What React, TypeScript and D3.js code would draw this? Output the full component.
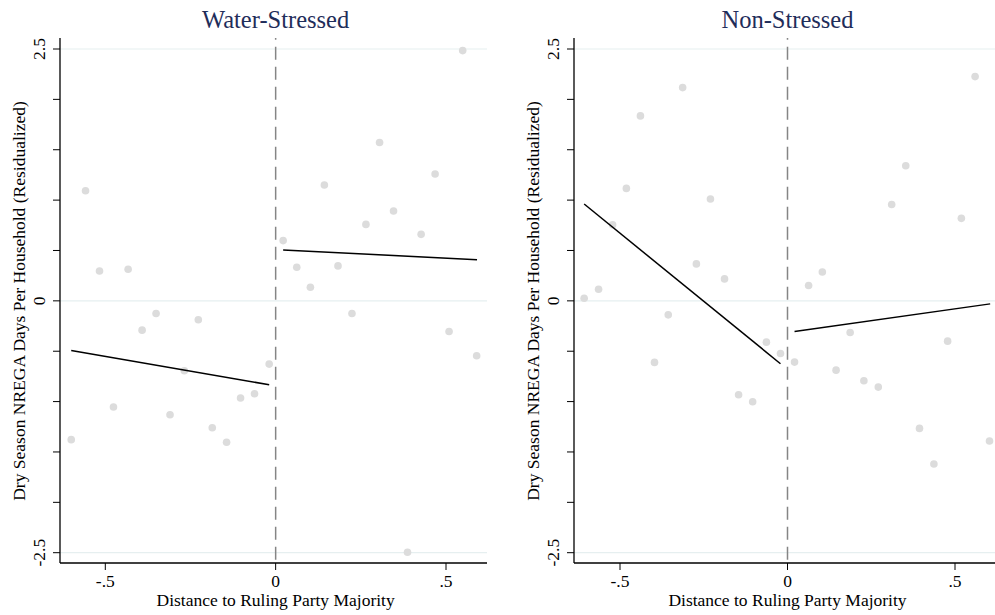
import React from "react";
import * as d3 from "d3";

const wsX = [0.549, 0.305, 0.468, 0.143, 0.346, 0.265, 0.427, 0.022, 0.062, 0.183, 0.102, -0.558, -0.517, -0.433, -0.351, -0.227, -0.392, 0.224, 0.509, 0.590, -0.019, -0.268, -0.062, -0.103, -0.476, -0.310, -0.186, -0.144, -0.600, 0.387];
const wsY = [2.484, 1.572, 1.259, 1.150, 0.892, 0.759, 0.660, 0.598, 0.333, 0.347, 0.135, 1.093, 0.297, 0.313, -0.126, -0.188, -0.291, -0.126, -0.304, -0.545, -0.628, -0.694, -0.922, -0.965, -1.054, -1.130, -1.259, -1.404, -1.378, -2.495];

const nsX = [-0.607, -0.564, -0.522, -0.481, -0.439, -0.313, -0.272, -0.230, -0.188, 0.063, 0.104, 0.311, 0.353, 0.519, 0.560, -0.356, -0.397, -0.063, -0.021, 0.021, -0.146, -0.104, 0.187, 0.145, 0.228, 0.271, 0.478, 0.394, 0.437, 0.603];
const nsY = [0.026, 0.115, 0.756, 1.116, 1.836, 2.117, 0.367, 1.011, 0.218, 0.152, 0.287, 0.957, 1.341, 0.819, 2.226, -0.139, -0.611, -0.410, -0.522, -0.608, -0.932, -1.001, -0.314, -0.688, -0.793, -0.856, -0.400, -1.266, -1.619, -1.391];

const wsFitLeftX = [-0.600, -0.019];
const wsFitLeftY = [-0.492, -0.833];
const wsFitRightX = [0.022, 0.591];
const wsFitRightY = [0.505, 0.409];
const nsFitLeftX = [-0.607, -0.021];
const nsFitLeftY = [0.961, -0.624];
const nsFitRightX = [0.021, 0.605];
const nsFitRightY = [-0.304, -0.030];

const xTicks = [-0.5, 0, 0.5];
const xTickLabels = ["-.5", "0", ".5"];
const yLabelTicks = [2.5, 0, -2.5];
const yLabelText = ["2.5", "0", "-2.5"];
const yMinorTicks = [2.5, 2, 1.5, 1, 0.5, 0, -0.5, -1, -1.5, -2, -2.5];

const titles = ["Water-Stressed", "Non-Stressed"];

const FONT = "'Liberation Serif', 'Times New Roman', serif";
const TITLE_COLOR = "#1f2d5a";
const GRID = "#e6eff0";
const DOT = "#dcdcdc";

type PanelProps = {
  title: string;
  xs: number[];
  ys: number[];
  fits: [number[], number[]][];
  axisX: number;
  rightX: number;
  xr: [number, number];
};

const yScale = d3.scaleLinear().domain([-2.5, 2.5]).range([552.7, 49]);
const topY = 38;
const bottomY = 563;

function Panel({ title, xs, ys, fits, axisX, rightX, xr }: PanelProps) {
  const x = d3.scaleLinear().domain([-0.5, 0.5]).range(xr);
  const line = d3
    .line<[number, number]>()
    .x((d) => x(d[0]))
    .y((d) => yScale(d[1]));
  const titleX = x(0);
  return (
    <g>
      <text x={titleX} y={28} textAnchor="middle" fontFamily={FONT} fontSize={24.5} fill={TITLE_COLOR}>
        {title}
      </text>
      {yLabelTicks.map((t) => (
        <line key={"g" + t} x1={axisX} x2={rightX} y1={yScale(t)} y2={yScale(t)} stroke={GRID} strokeWidth={1.2} />
      ))}
      <line
        x1={x(0)}
        x2={x(0)}
        y1={topY}
        y2={bottomY}
        stroke="#858585"
        strokeWidth={1.5}
        strokeDasharray="13,7"
        strokeDashoffset={11.3}
      />
      {xs.map((v, i) => (
        <circle key={i} cx={x(v)} cy={yScale(ys[i])} r={3.8} fill={DOT} />
      ))}
      {fits.map(([fx, fy], i) => (
        <path
          key={"f" + i}
          d={line(fx.map((v, j) => [v, fy[j]] as [number, number])) || ""}
          stroke="#000"
          strokeWidth={1.5}
          fill="none"
        />
      ))}
      <line x1={axisX} x2={axisX} y1={topY} y2={bottomY} stroke="#000" strokeWidth={1.3} />
      <line x1={axisX} x2={rightX} y1={bottomY} y2={bottomY} stroke="#000" strokeWidth={1.3} />
      {yMinorTicks.map((t) => (
        <line key={"t" + t} x1={axisX - 7} x2={axisX} y1={yScale(t)} y2={yScale(t)} stroke="#000" strokeWidth={1} />
      ))}
      {yLabelTicks.map((t, i) => (
        <text
          key={"yl" + t}
          transform={`translate(${axisX - 15},${yScale(t)}) rotate(-90)`}
          textAnchor="middle"
          fontFamily={FONT}
          fontSize={17.5}
          fill="#000"
        >
          {yLabelText[i]}
        </text>
      ))}
      {xTicks.map((t, i) => (
        <g key={"x" + t}>
          <line x1={x(t)} x2={x(t)} y1={bottomY} y2={bottomY + 7} stroke="#000" strokeWidth={1} />
          <text x={x(t)} y={587} textAnchor="middle" fontFamily={FONT} fontSize={17.5} fill="#000">
            {xTickLabels[i]}
          </text>
        </g>
      ))}
      <text x={x(0)} y={606} textAnchor="middle" fontFamily={FONT} fontSize={17.5} fill="#000">
        Distance to Ruling Party Majority
      </text>
      <text
        transform={`translate(${axisX - 35},301) rotate(-90)`}
        textAnchor="middle"
        fontFamily={FONT}
        fontSize={17.5}
        fill="#000"
      >
        Dry Season NREGA Days Per Household (Residualized)
      </text>
    </g>
  );
}

export default function App() {
  return (
    <svg
      width={995}
      height={615}
      style={{ position: "absolute", left: 0, top: 0, background: "#fff" }}
    >
      <rect width={995} height={615} fill="#fff" />
      <Panel
        title={titles[0]}
        xs={wsX}
        ys={wsY}
        fits={[
          [wsFitLeftX, wsFitLeftY],
          [wsFitRightX, wsFitRightY],
        ]}
        axisX={60}
        rightX={487}
        xr={[105.3, 446]}
      />
      <Panel
        title={titles[1]}
        xs={nsX}
        ys={nsY}
        fits={[
          [nsFitLeftX, nsFitLeftY],
          [nsFitRightX, nsFitRightY],
        ]}
        axisX={574}
        rightX={995}
        xr={[620, 955]}
      />
    </svg>
  );
}
